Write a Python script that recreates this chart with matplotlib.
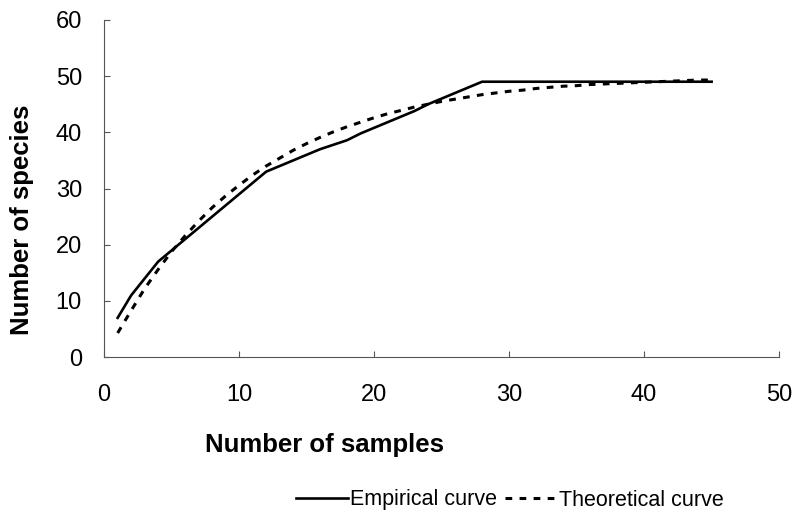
import numpy as np
import matplotlib.pyplot as plt

# species accumulation: observed vs fitted
samples = list(range(1, 46))
empirical = [7, 11, 14, 17, 19, 21, 23, 25, 27, 29, 31, 33, 34, 35, 36,
             37, 37.8, 38.6, 39.8, 40.8, 41.8, 42.8, 43.8, 45, 46, 47, 48, 49,
             49, 49, 49, 49, 49, 49, 49, 49, 49, 49, 49, 49, 49, 49, 49, 49, 49]
theoretical = [4.3, 8.3, 12.2, 15.6, 18.8, 21.6, 24.2, 26.6, 28.7, 30.6,
               32.4, 34.0, 35.4, 36.8, 38.0, 39.1, 40.1, 41.0, 41.8, 42.6,
               43.3, 43.9, 44.5, 45.0, 45.5, 45.9, 46.3, 46.7, 47.0, 47.3,
               47.5, 47.8, 48.0, 48.2, 48.3, 48.5, 48.6, 48.7, 48.8, 48.9,
               49.0, 49.1, 49.2, 49.3, 49.3]

plt.rcParams['font.family'] = ['Liberation Sans', 'DejaVu Sans']

fig = plt.figure(figsize=(7.95, 5.23), dpi=100)
ax = fig.add_axes([0.131, 0.317, 0.849, 0.645])

ax.plot(samples, empirical, color="black", lw=1.9, label="Empirical curve")
ax.plot(samples, theoretical, color="black", lw=2.2, linestyle=(0, (2.2, 2.4)),
        label="Theoretical curve")

ax.set_xlim(0, 50)
ax.set_ylim(0, 60)
ax.set_xticks(np.arange(0, 51, 10))
ax.set_yticks(np.arange(0, 61, 10))
for side in ["top", "right"]:
    ax.spines[side].set_visible(False)
for side in ["left", "bottom"]:
    ax.spines[side].set_color("#555555")
    ax.spines[side].set_linewidth(0.8)
ax.tick_params(axis="x", direction="in", length=4, width=0.8, color="#555555",
               labelsize=17, pad=19)
ax.tick_params(axis="y", direction="in", length=4, width=0.8, color="#555555",
               labelsize=17, pad=16)

ax.set_xlabel("Number of samples", fontsize=18.5, fontweight="bold")
ax.set_ylabel("Number of species", fontsize=18.5, fontweight="bold")
# labels sit left of / below the axes centre
ax.xaxis.set_label_coords(0.326, -0.225)
ax.yaxis.set_label_coords(-0.104, 0.407)

fig.legend(loc="center", bbox_to_anchor=(510 / 795, 1 - 500 / 523), ncol=2,
           frameon=False, fontsize=15.5, handlelength=2.4, handletextpad=0.1,
           columnspacing=0.4)

fig.savefig("out.png", dpi=100)
